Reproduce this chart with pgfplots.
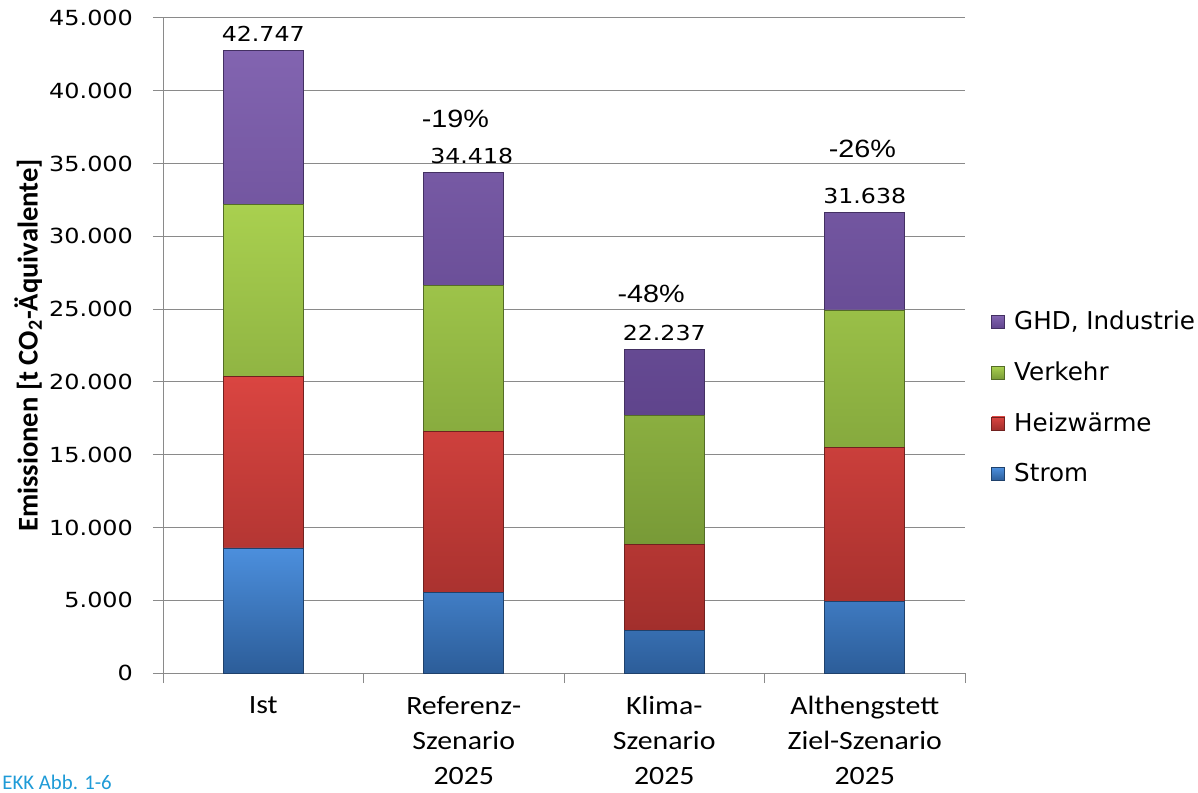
\documentclass[border=0pt]{standalone}
\usepackage{pgfplots}
\pgfplotsset{compat=1.18}
\usepackage{fontspec}
\setmainfont{Carlito}
\newfontfamily\catfont[FakeStretch=1.13]{Carlito}
\newfontfamily\tickfont[FakeStretch=1.15]{DejaVu Sans}
\newfontfamily\legfont{DejaVu Sans}
\newfontfamily\pctfont[FakeStretch=1.15]{Liberation Sans}
\definecolor{gridgray}{HTML}{8A8A8A}
\definecolor{stromT}{HTML}{4C8FDD}\definecolor{stromB}{HTML}{2C5D99}
\definecolor{heizT}{HTML}{DA4541}\definecolor{heizB}{HTML}{A22F2C}
\definecolor{verkT}{HTML}{A9D04F}\definecolor{verkB}{HTML}{789A37}
\definecolor{ghdT}{HTML}{8264B0}\definecolor{ghdB}{HTML}{5F448C}
\definecolor{ekkblue}{HTML}{1F9BD7}
\tikzset{
  tot/.style={font={\tickfont\fontsize{10.3}{12}\selectfont}, anchor=base, yshift=4.5pt},
  pct/.style={font={\pctfont\fontsize{12.5}{14}\selectfont}, anchor=base},
}
\begin{document}
\begin{tikzpicture}
\useasboundingbox (0,0) rectangle (599pt,396pt);
\begin{axis}[
  at={(81.5pt,59.5pt)}, anchor=south west,
  scale only axis, width=401pt, height=327.5pt,
  xmin=-0.5, xmax=3.5, ymin=0, ymax=45000,
  clip=false,
  ybar stacked, bar width=40pt,
  axis x line*=bottom, axis y line*=left,
  axis line style={draw=gridgray, line width=0.5pt},
  ymajorgrids, grid style={draw=gridgray, line width=0.5pt},
  tick align=outside, major tick length=5pt,
  tick style={draw=gridgray, line width=0.5pt},
  ytick={0,5000,...,45000},
  scaled y ticks=false,
  yticklabel style={font={\tickfont\fontsize{10.4}{12}\selectfont}, xshift=-6.5pt},
  /pgf/number format/1000 sep={.},
  /pgf/number format/assume math mode=true,
  xtick={-0.5,0.5,1.5,2.5,3.5}, xticklabels={},
  extra x ticks={0,1,2,3},
  extra x tick labels={Ist,{Referenz-\\Szenario\\2025},{Klima-\\Szenario\\2025},{Althengstett\\Ziel-Szenario\\2025}},
  extra x tick style={major tick length=0pt,
    xticklabel style={align=center, anchor=north, font={\catfont\fontsize{13.2}{17.5}\selectfont}, yshift=-8pt}},
  ylabel={Emissionen [t CO\textsubscript{2}-Äquivalente]},
  ylabel style={at={(axis description cs:-0.168,0.5)}, anchor=center, font={\bfseries\fontsize{14.3}{16}\selectfont}},
  legend style={at={(1.025,0.42)}, anchor=west, draw=none, fill=none,
    font={\legfont\fontsize{12.3}{14}\selectfont}, row sep=10.5pt},
  legend cell align=left,
  reverse legend,
  legend image code/.code={\draw[#1] (0pt,-3.25pt) rectangle (6.5pt,3.25pt); \path (9pt,0pt);},
]
\addplot[draw=stromB!70!black, line width=0.4pt, top color=stromT, bottom color=stromB]
  coordinates {(0,8590) (1,5520) (2,2950) (3,4900)};
\addlegendentry{Strom}
\addplot[draw=heizB!70!black, line width=0.4pt, top color=heizT, bottom color=heizB]
  coordinates {(0,11810) (1,11060) (2,5890) (3,10600)};
\addlegendentry{Heizwärme}
\addplot[draw=verkB!70!black, line width=0.4pt, top color=verkT, bottom color=verkB]
  coordinates {(0,11820) (1,10030) (2,8840) (3,9440)};
\addlegendentry{Verkehr}
\addplot[draw=ghdB!70!black, line width=0.4pt, top color=ghdT, bottom color=ghdB]
  coordinates {(0,10527) (1,7808) (2,4557) (3,6698)};
\addlegendentry{GHD, Industrie}
\node[tot] at (axis cs:0,42747) {42.747};
\node[tot, xshift=4pt] at (axis cs:1,34418) {34.418};
\node[tot] at (axis cs:2,22237) {22.237};
\node[tot] at (axis cs:3,31638) {31.638};
\node[pct] at (axis cs:0.958,37511) {-19\%};
\node[pct] at (axis cs:1.935,25488) {-48\%};
\node[pct] at (axis cs:2.988,35449) {-26\%};
\end{axis}
\node[anchor=base west, inner sep=0pt, text=ekkblue, font={\fontsize{10.4}{12}\selectfont}] at (1pt,1.5pt) {EKK Abb. 1-6};
\end{tikzpicture}
\end{document}
